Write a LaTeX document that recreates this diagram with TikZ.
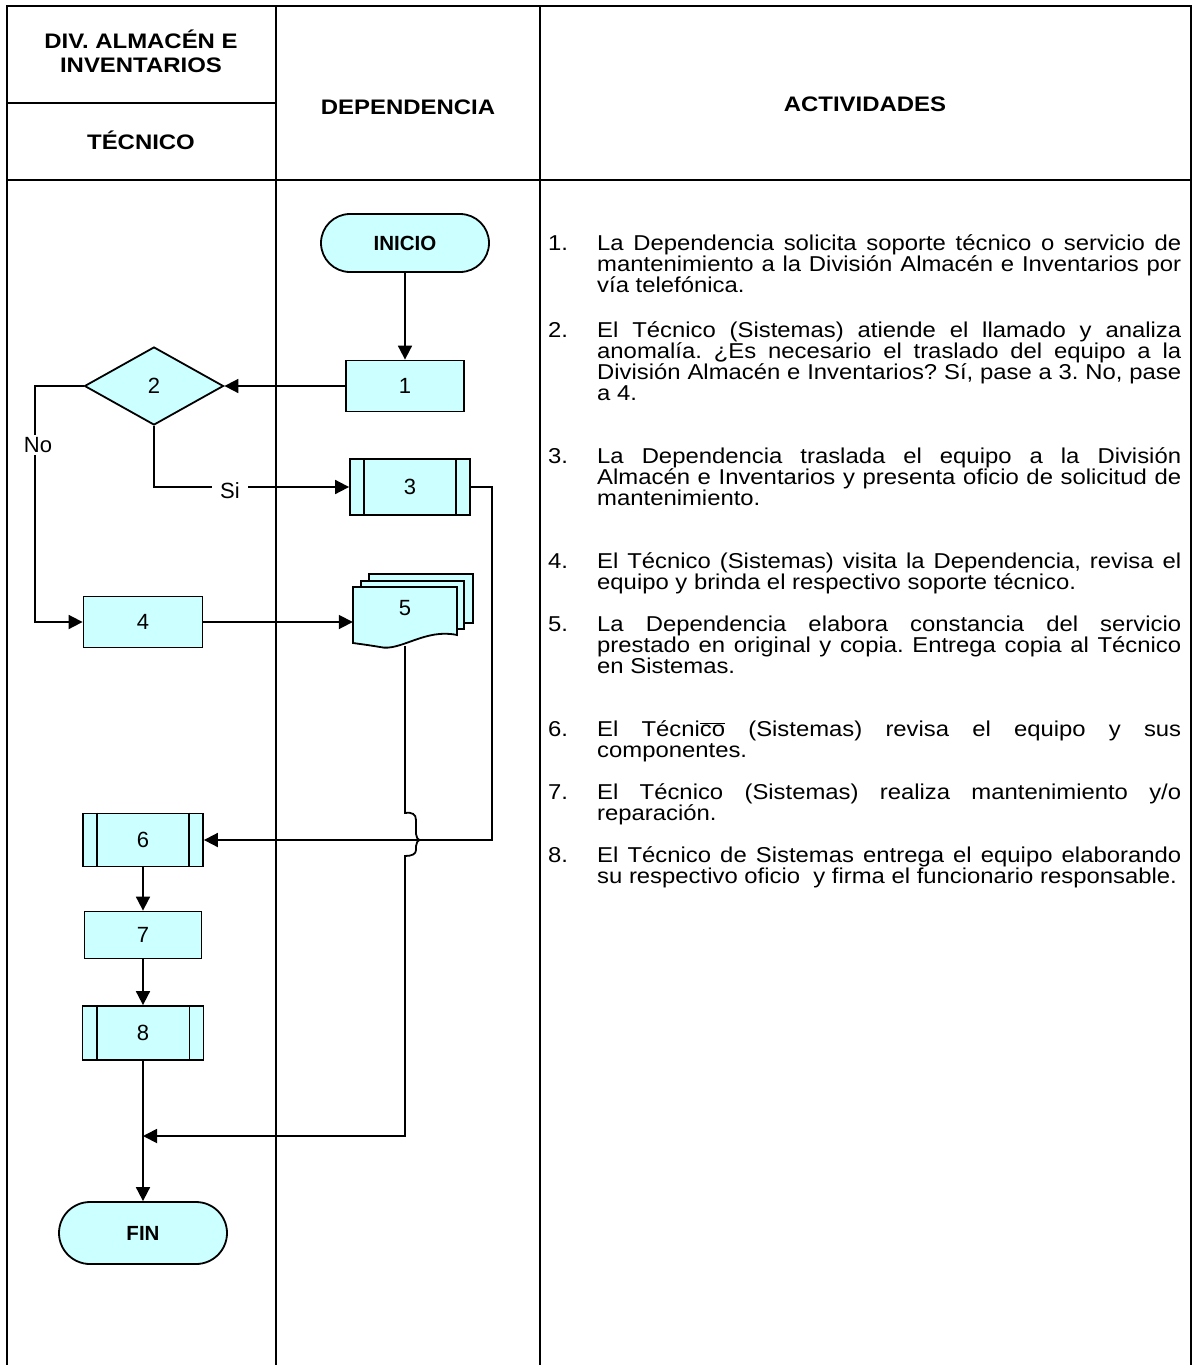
\documentclass[tikz,border=0pt]{standalone}
\usepackage{fontspec}
\setmainfont{Liberation Sans}
\newfontfamily\bodyf[FakeStretch=1.11]{Liberation Sans}
\newfontfamily\hdrf[FakeStretch=1.14]{Liberation Sans}
\usetikzlibrary{arrows.meta,shapes.geometric,calc}
\definecolor{boxfill}{HTML}{CCFFFF}
\tikzset{
  tbl/.style={line width=2.7pt},
  flow/.style={line width=1.8pt},
  arr/.style={flow,-{Triangle[length=14pt,width=14pt]}},
  procbox/.style={draw,line width=1.8pt,fill=boxfill,inner sep=0pt,font=\fontsize{22}{26}\selectfont},
  termbox/.style={draw,line width=1.8pt,fill=boxfill,rounded corners=29pt,inner sep=0pt,minimum width=168pt,font=\bfseries\fontsize{20.5}{24}\selectfont},
  hdr/.style={font=\hdrf\bfseries\fontsize{21}{24}\selectfont,align=center,inner sep=0pt},
  lbl/.style={font=\fontsize{22}{26}\selectfont,fill=white,inner sep=2pt},
  itemnum/.style={anchor=north west,inner sep=0pt,font=\bodyf\fontsize{21.5}{21}\selectfont},
  itemtxt/.style={anchor=north west,inner sep=0pt,text width=584pt,align=justify,font=\bodyf\fontsize{21.5}{21}\selectfont\frenchspacing}
}
\newcommand{\fs}{\rule{0pt}{16pt}}
\begin{document}
\begin{tikzpicture}[x=1pt,y=-1pt]
\useasboundingbox (0,0) rectangle (1196,1365);
% table
\draw[tbl] (7,1365) -- (7,6) -- (1191,6) -- (1191,1365);
\draw[tbl] (276,6) -- (276,1365);
\draw[tbl] (540,6) -- (540,1365);
\draw[tbl] (7,180) -- (1191,180);
\draw[tbl] (7,103) -- (276,103);
% headers
\node[hdr] (hdiv) at (141,51) {DIV. ALMAC\'EN E\\INVENTARIOS};
\node[hdr] (htec) at (141,140) {T\'ECNICO};
\node[hdr] (hdep) at (408,107) {DEPENDENCIA};
\node[hdr] (hact) at (865,104) {ACTIVIDADES};
% flow nodes
\node[termbox,minimum height=58pt] (ini) at (405,243) {INICIO};
\node[procbox,minimum width=118pt,minimum height=51pt] (b1) at (405,386) {1};
\node[draw,line width=1.8pt,fill=boxfill,diamond,minimum width=139pt,minimum height=78pt,inner sep=0pt,font=\fontsize{22}{26}\selectfont] (dec) at (154,386) {2};
\node[procbox,minimum width=120pt,minimum height=56pt] (b3) at (410,487) {3};
\node[procbox,minimum width=119pt,minimum height=51pt] (b4) at (143,622) {4};
% document stack 5
\filldraw[flow,fill=boxfill] (369,574) rectangle (473,623);
\filldraw[flow,fill=boxfill] (361,581) rectangle (464,629);
\filldraw[flow,fill=boxfill] (353,587) -- (457,587) -- (457,635)
   .. controls (425,628) and (400,652) .. (380,647)
   .. controls (368,645) and (360,644) .. (353,643) -- cycle;
\node[inner sep=0pt,minimum width=104pt,minimum height=56pt,font=\fontsize{22}{26}\selectfont] (d5) at (405,608) {5};
\coordinate (d5b) at (405,646);
\node[procbox,minimum width=120pt,minimum height=53pt] (b6) at (143,840) {6};
\node[procbox,minimum width=117pt,minimum height=47pt] (b7) at (143,935) {7};
\node[procbox,minimum width=121pt,minimum height=54pt] (b8) at (143,1033) {8};
\node[termbox,minimum height=62pt,rounded corners=31pt] (fin) at (143,1233) {FIN};
% inner bars of predefined processes
\foreach \n in {b3,b6,b8}{
  \draw[flow] ([xshift=15pt]\n.north west) -- ([xshift=15pt]\n.south west);
  \draw[flow] ([xshift=-15pt]\n.north east) -- ([xshift=-15pt]\n.south east);
}
% connectors
\draw[arr] (ini.south) -- (b1.north);
\draw[arr] (b1.west) -- (dec.east);
\coordinate (no1) at (35,386);
\coordinate (no2) at (35,622);
\draw[arr] (dec.west) -- (no1) -- (no2) -- (b4.west);
\node[lbl] (lno) at (38,445) {No};
\coordinate (si1) at (154,487);
\draw[arr] (dec.south) -- (si1) -- (b3.west);
\node[lbl,inner xsep=8pt] (lsi) at (230,491) {Si};
\draw[arr] (b4.east) -- (b4.east -| d5.west);
\coordinate (r1) at (492,487);
\coordinate (r2) at (492,840);
\draw[arr] (b3.east) -- (r1) -- (r2) -- (b6.east);
\coordinate (jn) at (143,1136);
\draw[arr] (d5b) -- (405,813)
   .. controls (412,812) and (416,814) .. (416,820) -- (416,834)
   .. controls (416,837) and (418,840) .. (420,840)
   .. controls (418,840) and (416,843) .. (416,846) -- (416,850)
   .. controls (416,854) and (412,856) .. (405,856)
   -- (405,1136) -- (jn);
\draw[arr] (b6.south) -- (b7.north);
\draw[arr] (b7.south) -- (b8.north);
\draw[arr] (b8.south) -- (fin.north);
% activities
\foreach \k/\yy in {1/243,2/330,3/456,4/561,5/624,6/729,7/792,8/855}{
  \node[itemnum] (n\k) at (548,\yy-9) {\fs\k.};
}
\node[itemtxt] (a1) at (597,234) {\fs La Dependencia solicita soporte t\'ecnico o servicio de\linebreak mantenimiento a la Divisi\'on Almac\'en e Inventarios por\linebreak v\'ia telef\'onica.};
\node[itemtxt] (a2) at (597,321) {\fs El T\'ecnico (Sistemas) atiende el llamado y analiza\linebreak anomal\'ia. ¿Es necesario el traslado del equipo a la\linebreak Divisi\'on Almac\'en e Inventarios? S\'i, pase a 3. No, pase\linebreak a 4.};
\node[itemtxt] (a3) at (597,447) {\fs La Dependencia traslada el equipo a la Divisi\'on\linebreak Almac\'en e Inventarios y presenta oficio de solicitud de\linebreak mantenimiento.};
\node[itemtxt] (a4) at (597,552) {\fs El T\'ecnico (Sistemas) visita la Dependencia, revisa el\linebreak equipo y brinda el respectivo soporte t\'ecnico.};
\node[itemtxt] (a5) at (597,615) {\fs La Dependencia elabora constancia del servicio\linebreak prestado en original y copia. Entrega copia al T\'ecnico\linebreak en Sistemas.};
\node[itemtxt] (a6) at (597,720) {\fs El T\'ecni$\overline{\hbox{co}}$ (Sistemas) revisa el equipo y sus\linebreak componentes.};
\node[itemtxt] (a7) at (597,783) {\fs El T\'ecnico (Sistemas) realiza mantenimiento y/o\linebreak reparaci\'on.};
\node[itemtxt] (a8) at (597,846) {\fs El T\'ecnico de Sistemas entrega el equipo elaborando\linebreak su respectivo oficio~ y firma el funcionario responsable.};
\end{tikzpicture}
\end{document}
